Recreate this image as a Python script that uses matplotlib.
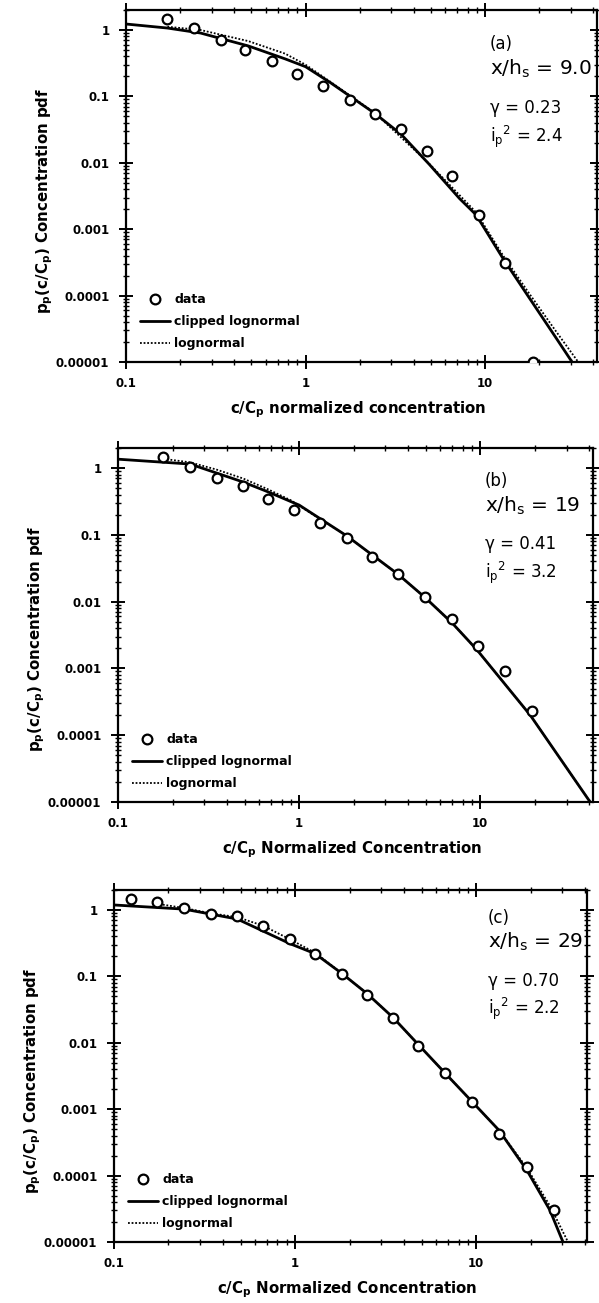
import matplotlib
matplotlib.use('Agg')
import matplotlib.pyplot as plt
from matplotlib.ticker import LogLocator, NullFormatter

plt.rcParams['font.family'] = ['DejaVu Sans']
plt.rcParams['mathtext.fontset'] = 'dejavusans'

W, H = 599, 1303

# ---------------- data ----------------
# panel (a)  x/hs = 9.0
data_x_a = [0.17, 0.24, 0.34, 0.46, 0.65, 0.90, 1.25, 1.76, 2.44, 3.40, 4.73, 6.58, 9.27, 12.9, 18.4]
data_y_a = [1.46, 1.07, 0.71, 0.50, 0.343, 0.219, 0.145, 0.089, 0.055, 0.0327, 0.0152, 0.0064, 0.00161, 0.00031, 0.00001]
clip_x_a = [0.1, 0.17, 0.26, 0.48, 0.77, 1.0, 1.38, 2.44, 3.4, 4.9, 7.2, 8.9, 12.6, 17.5, 24.6, 30.5]
clip_y_a = [1.23, 1.07, 0.90, 0.575, 0.367, 0.28, 0.16, 0.055, 0.027, 0.0094, 0.0029, 0.00165, 0.00036, 9.5e-5, 2.4e-5, 1e-5]
logn_x_a = [0.17, 0.26, 0.48, 0.77, 1.0, 1.38, 2.44, 4.9, 8.9, 12.6, 17.5, 24.6, 33.0]
logn_y_a = [1.12, 1.0, 0.68, 0.44, 0.30, 0.165, 0.056, 0.0096, 0.0018, 0.0004, 0.00011, 3e-5, 1e-5]

# panel (b)  x/hs = 19
data_x_b = [0.177, 0.25, 0.35, 0.49, 0.675, 0.94, 1.31, 1.84, 2.53, 3.52, 4.97, 7.0, 9.75, 13.7, 19.4]
data_y_b = [1.46, 1.03, 0.71, 0.54, 0.343, 0.235, 0.15, 0.089, 0.046, 0.0257, 0.0116, 0.0055, 0.0022, 0.00091, 0.00023]
clip_x_b = [0.1, 0.25, 0.49, 0.675, 0.94, 1.0, 1.84, 3.52, 4.97, 7.0, 9.6, 18.9, 40.5]
clip_y_b = [1.36, 1.15, 0.62, 0.44, 0.30, 0.28, 0.096, 0.0257, 0.0115, 0.0048, 0.0019, 0.0002, 1e-5]
logn_x_b = [0.17, 0.25, 0.35, 0.49, 0.675, 0.9, 1.2, 1.84, 3.52, 4.97, 7.0, 9.6, 18.9, 40.5]
logn_y_b = [1.40, 1.22, 0.95, 0.70, 0.48, 0.33, 0.20, 0.096, 0.0257, 0.0115, 0.0048, 0.0019, 0.0002, 1e-5]

# panel (c)  x/hs = 29
data_x_c = [0.124, 0.173, 0.244, 0.344, 0.48, 0.666, 0.94, 1.29, 1.82, 2.5, 3.48, 4.78, 6.74, 9.5, 13.4, 19.1, 27.0]
data_y_c = [1.46, 1.32, 1.07, 0.87, 0.81, 0.575, 0.368, 0.22, 0.11, 0.0516, 0.0234, 0.0089, 0.0035, 0.00129, 0.00043, 0.000137, 3.0e-5]
clip_x_c = [0.1, 0.244, 0.48, 0.94, 1.29, 1.82, 2.5, 3.48, 4.78, 6.74, 9.5, 13.4, 19.1, 25.6, 30.2]
clip_y_c = [1.19, 1.03, 0.73, 0.31, 0.22, 0.11, 0.055, 0.024, 0.0095, 0.0035, 0.0013, 0.00048, 0.00012, 3e-5, 1e-5]
logn_x_c = [0.17, 0.244, 0.344, 0.48, 0.666, 0.94, 1.3, 1.82, 2.5, 3.48, 4.78, 6.74, 9.5, 13.4, 19.1, 25.6, 32.2]
logn_y_c = [1.25, 1.07, 0.89, 0.78, 0.58, 0.36, 0.225, 0.11, 0.055, 0.024, 0.0095, 0.0035, 0.0013, 0.00048, 0.00013, 3.5e-5, 1e-5]

xtick_vals = [0.1, 1, 10]
xtick_labels = ['0.1', '1', '10']
ytick_vals = [1e-5, 1e-4, 1e-3, 1e-2, 1e-1, 1]
ytick_labels = ['0.00001', '0.0001', '0.001', '0.01', '0.1', '1']

tags = ['(a)', '(b)', '(c)']
xh_vals = ['9.0', '19', '29']
gamma_vals = ['0.23', '0.41', '0.70']
ip2_vals = ['2.4', '3.2', '2.2']
xlabels = [r'c/C$_\mathregular{p}$ normalized concentration',
           r'c/C$_\mathregular{p}$ Normalized Concentration',
           r'c/C$_\mathregular{p}$ Normalized Concentration']
ylabel = r'p$_\mathregular{p}$(c/C$_\mathregular{p}$) Concentration pdf'
legend_labels = ['data', 'clipped lognormal', 'lognormal']
xmax_vals = [42, 42, 41]

panels = [
    (data_x_a, data_y_a, clip_x_a, clip_y_a, logn_x_a, logn_y_a),
    (data_x_b, data_y_b, clip_x_b, clip_y_b, logn_x_b, logn_y_b),
    (data_x_c, data_y_c, clip_x_c, clip_y_c, logn_x_c, logn_y_c),
]

# ---------------- layout (pixels) ----------------
boxes = [(126, 597, 10, 362), (118, 593, 448, 802), (114, 587, 890, 1242)]
text_x = [490, 485, 488]
text_base = [(49, 75, 113, 142), (486, 512, 549, 578), (923, 948, 986, 1014)]
xlab_pos = [(358, 413), (352, 853), (347, 1293)]

fig = plt.figure(figsize=(W / 100, H / 100), dpi=100)

def fx(px):
    return px / W

def fy(py):
    return 1 - py / H

for i, (dx, dy, cx, cy, lx, ly) in enumerate(panels):
    l, r, t, b = boxes[i]
    ax = fig.add_axes([fx(l), fy(b), (r - l) / W, (b - t) / H])
    ax.set_xscale('log')
    ax.set_yscale('log')
    ax.set_xlim(0.1, xmax_vals[i])
    ax.set_ylim(1e-5, 2)

    ln_clip, = ax.plot(cx, cy, color='black', lw=2.0, solid_capstyle='round')
    ln_logn, = ax.plot(lx, ly, color='black', lw=1.3, ls=(0, (1, 1)))
    pts, = ax.plot(dx, dy, 'o', ms=7, mfc='white', mec='black', mew=1.6, ls='none', zorder=3)

    ax.set_xticks(xtick_vals, xtick_labels)
    ax.set_yticks(ytick_vals, ytick_labels)
    ax.xaxis.set_minor_locator(LogLocator(base=10, subs=range(2, 10), numticks=20))
    ax.yaxis.set_minor_locator(LogLocator(base=10, subs=range(2, 10), numticks=20))
    ax.xaxis.set_minor_formatter(NullFormatter())
    ax.yaxis.set_minor_formatter(NullFormatter())
    ax.tick_params(which='major', direction='inout', length=10, width=1.4,
                   top=True, right=True, labelsize=8.5)
    ax.tick_params(which='minor', direction='inout', length=4, width=1.0,
                   top=True, right=True)
    ax.tick_params(axis='y', which='major', pad=7)
    ax.tick_params(axis='x', which='major', pad=6)
    for lab in ax.get_xticklabels() + ax.get_yticklabels():
        lab.set_fontweight('bold')
    for sp in ax.spines.values():
        sp.set_linewidth(1.6)

    leg_handles = [pts, ln_clip, ln_logn]
    x0 = 14 / (r - l)
    y0 = 12 / (b - t)
    ax.legend(leg_handles, legend_labels, loc='lower left', bbox_to_anchor=(x0, y0),
              frameon=False, borderpad=0, borderaxespad=0, handlelength=2.4,
              handletextpad=0.35, labelspacing=0.72,
              prop=dict(family='DejaVu Sans', weight='bold', size=9))

    # annotations
    tx = text_x[i]
    b1, b2, b3, b4 = text_base[i]
    fig.text(fx(tx), fy(b1), tags[i], fontsize=12, va='baseline', ha='left')
    fig.text(fx(tx), fy(b2), r'x/h$_\mathregular{s}$ = ' + xh_vals[i], fontsize=14.5,
             va='baseline', ha='left')
    fig.text(fx(tx), fy(b3), '\u03b3 = ' + gamma_vals[i], fontsize=12, va='baseline', ha='left')
    fig.text(fx(tx), fy(b4), r'i$_\mathregular{p}$$^\mathregular{2}$ = ' + ip2_vals[i], fontsize=12,
             va='baseline', ha='left')

    # axis labels
    xlx, xly = xlab_pos[i]
    fig.text(fx(xlx), fy(xly), xlabels[i], fontsize=10.8, fontweight='bold',
             ha='center', va='baseline')
    fig.text(fx(l - 81), fy(t + 191), ylabel, fontsize=10.8, fontweight='bold',
             rotation=90, ha='center', va='center')

fig.savefig('out.png', dpi=100)
